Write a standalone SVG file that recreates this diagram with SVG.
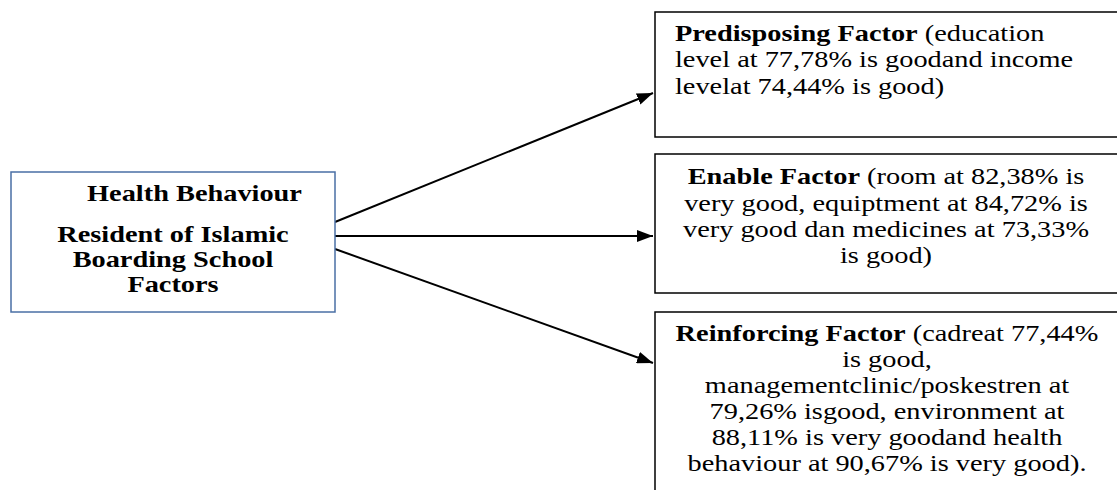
<svg xmlns="http://www.w3.org/2000/svg" width="1117" height="490" viewBox="0 0 1117 490">
<defs>
<marker id="ah" viewBox="0 0 16 12" refX="16" refY="6" markerWidth="16" markerHeight="12" markerUnits="userSpaceOnUse" orient="auto"><path d="M0,0 L16,6 L0,12 z" fill="#000"/></marker>
<style>
text{font-family:"Liberation Serif","Times New Roman",serif;font-size:22.5px;fill:#000}
.b{font-weight:bold}
.m{text-anchor:middle}
.box{fill:#fff;stroke:#000;stroke-width:1.5}
.src{fill:#fff;stroke:#4a6fa5;stroke-width:1.5}
.c{stroke:#000;stroke-width:2;fill:none}
</style>
</defs>
<rect width="1117" height="490" fill="#fff"/>
<g id="connectors">
<line class="c" x1="335" y1="222" x2="653" y2="93" marker-end="url(#ah)"/>
<line class="c" x1="335" y1="236" x2="653" y2="236" marker-end="url(#ah)"/>
<line class="c" x1="335" y1="249" x2="653" y2="363" marker-end="url(#ah)"/>
</g>
<g id="health">
<rect class="src" x="11" y="172" width="324" height="140"/>
<text class="b m" transform="translate(194.5,201) scale(1.26,1)">Health Behaviour</text>
<text class="b m" transform="translate(173,242) scale(1.26,1)">Resident of Islamic</text>
<text class="b m" transform="translate(173,267) scale(1.26,1)">Boarding School</text>
<text class="b m" transform="translate(173,292) scale(1.26,1)">Factors</text>
</g>
<g id="predisposing">
<rect class="box" x="655" y="12" width="480" height="125"/>
<text transform="translate(675,40.5) scale(1.26,1)"><tspan class="b">Predisposing Factor</tspan> (education</text>
<text transform="translate(675,67) scale(1.26,1)">level at 77,78% is goodand income</text>
<text transform="translate(675,93.5) scale(1.26,1)">levelat 74,44% is good)</text>
</g>
<g id="enable">
<rect class="box" x="655" y="154" width="480" height="139"/>
<text class="m" transform="translate(886,184) scale(1.26,1)"><tspan class="b">Enable Factor</tspan> (room at 82,38% is</text>
<text class="m" transform="translate(886,210.5) scale(1.26,1)">very good, equiptment at 84,72% is</text>
<text class="m" transform="translate(886,237) scale(1.26,1)">very good dan medicines at 73,33%</text>
<text class="m" transform="translate(886,263) scale(1.26,1)">is good)</text>
</g>
<g id="reinforcing">
<rect class="box" x="655" y="312" width="480" height="200"/>
<text class="m" transform="translate(887,341) scale(1.26,1)"><tspan class="b">Reinforcing Factor</tspan> (cadreat 77,44%</text>
<text class="m" transform="translate(887,367) scale(1.26,1)">is good,</text>
<text class="m" transform="translate(887,393) scale(1.26,1)">managementclinic/poskestren at</text>
<text class="m" transform="translate(887,419) scale(1.26,1)">79,26% isgood, environment at</text>
<text class="m" transform="translate(887,445) scale(1.26,1)">88,11% is very goodand health</text>
<text class="m" transform="translate(887,471) scale(1.26,1)">behaviour at 90,67% is very good).</text>
</g>
</svg>
